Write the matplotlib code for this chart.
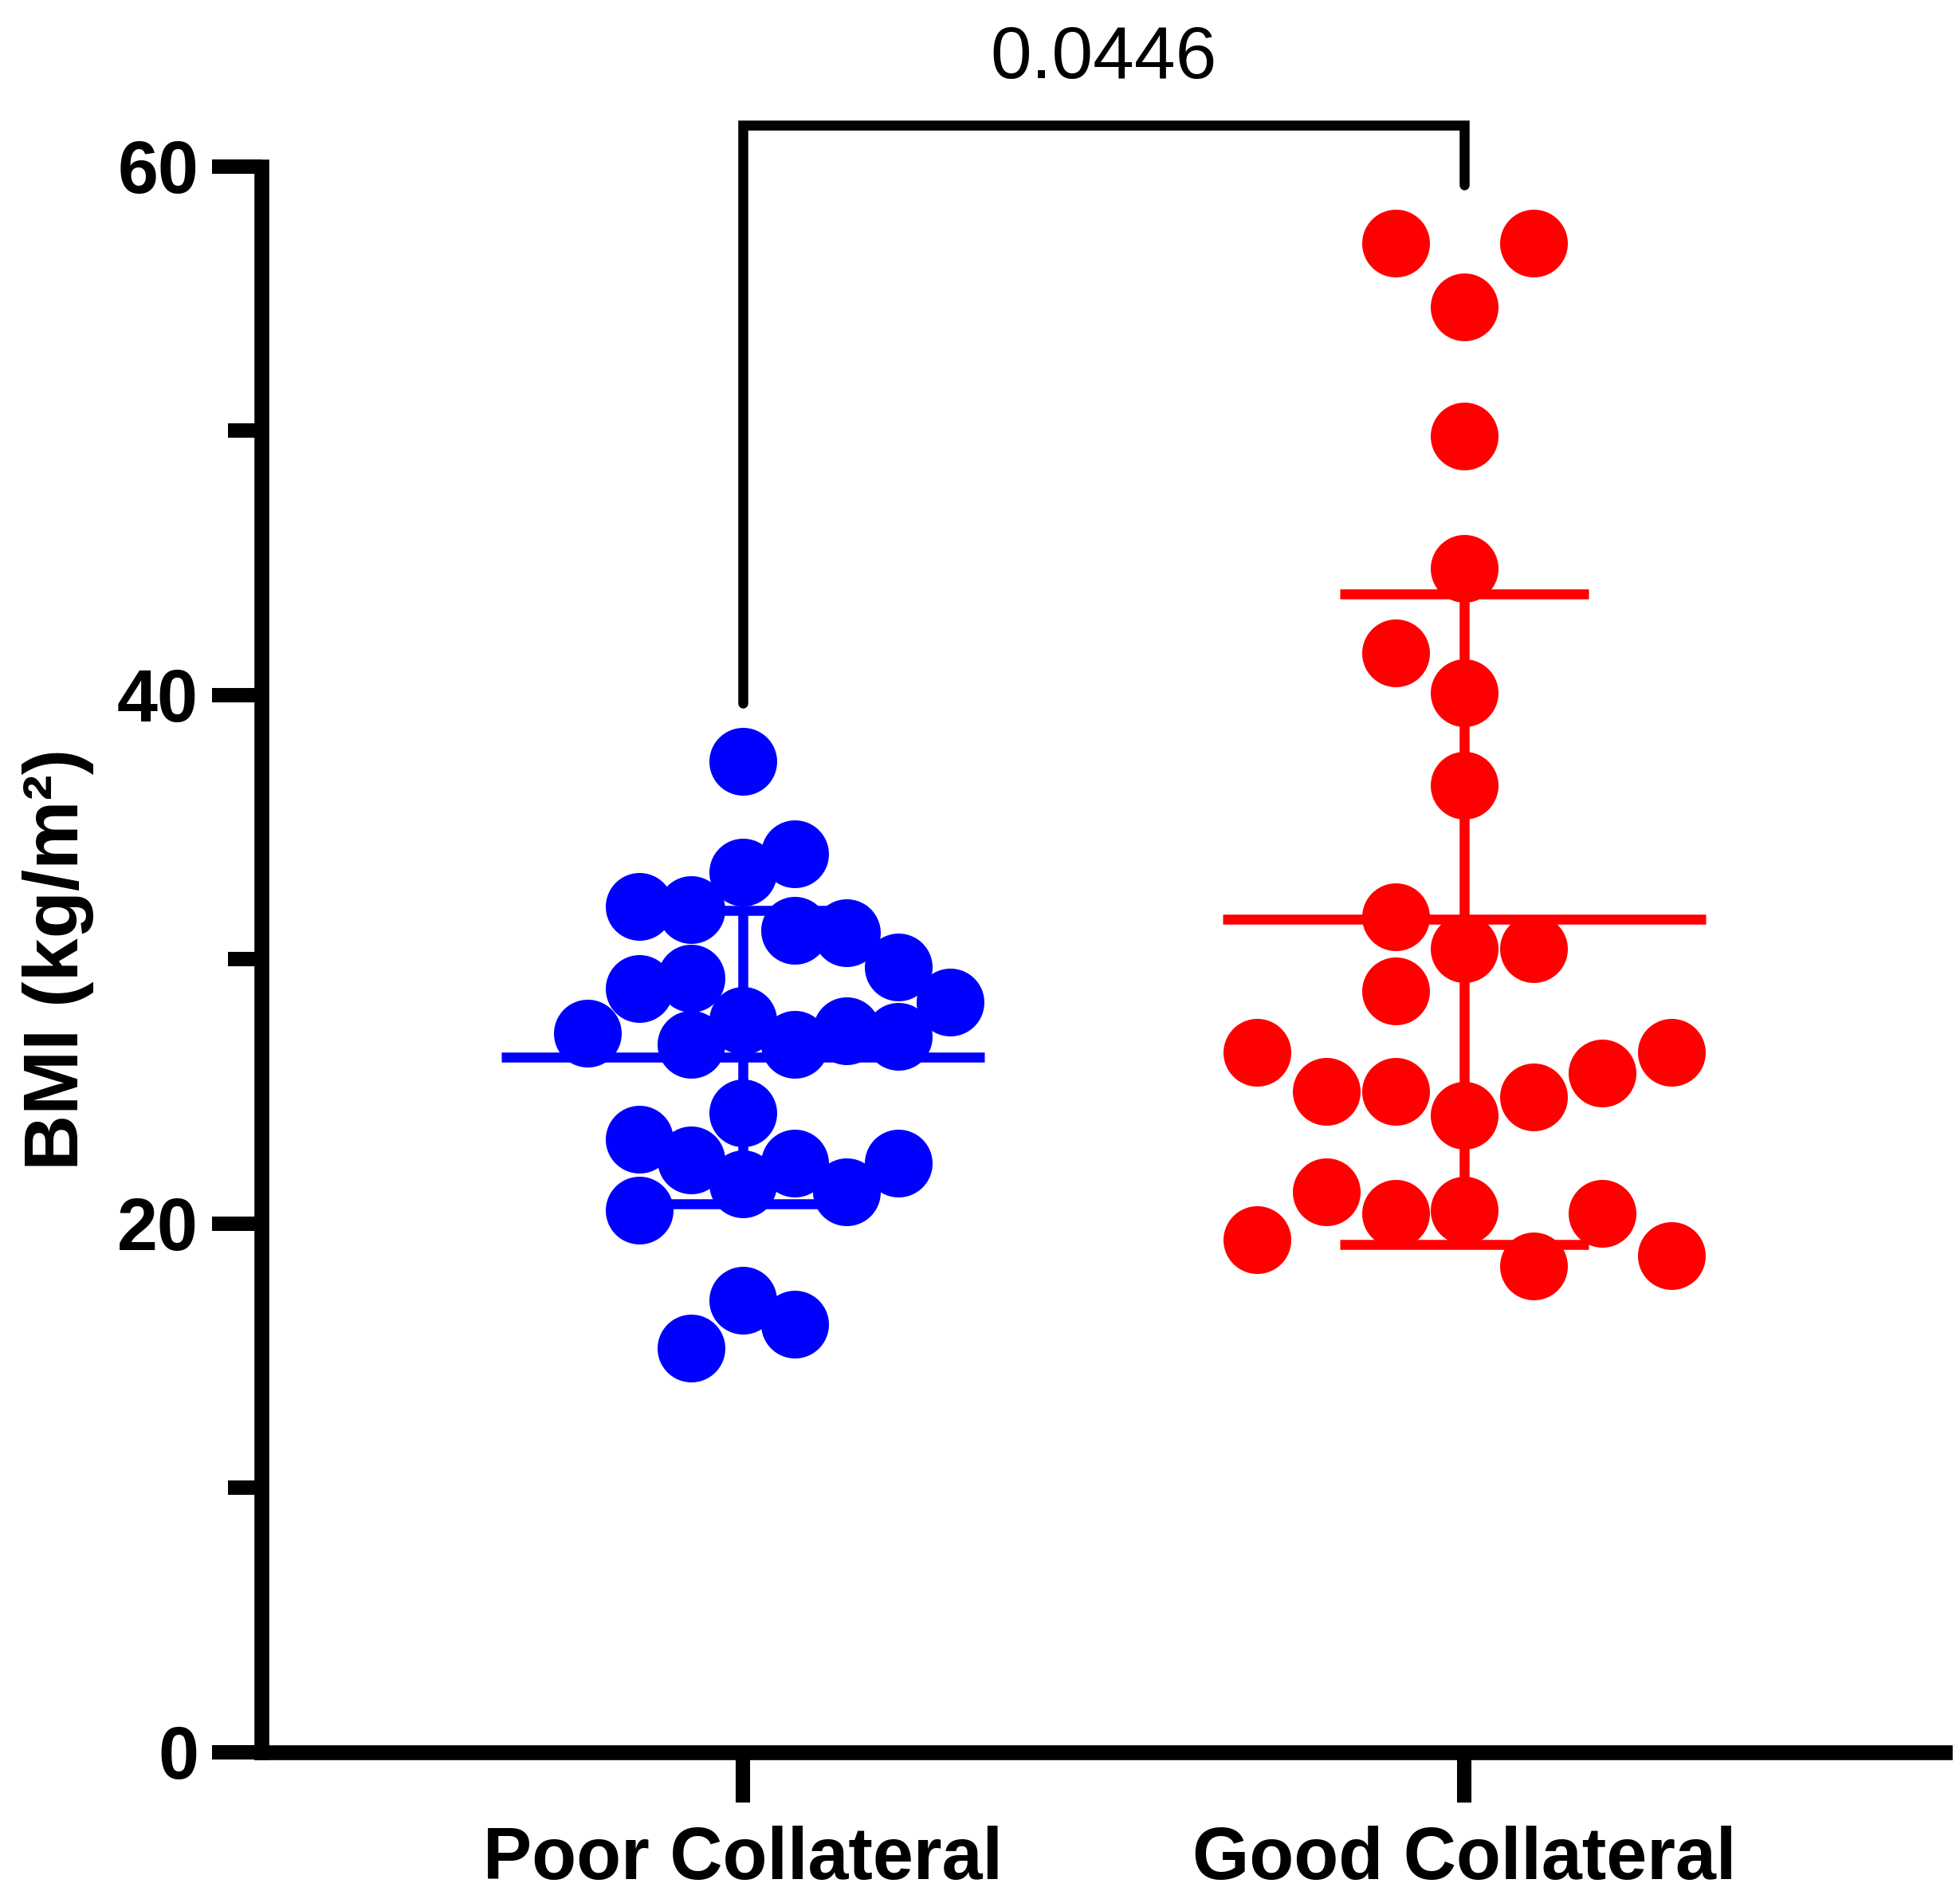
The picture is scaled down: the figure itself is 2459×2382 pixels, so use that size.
import numpy as np
import matplotlib
matplotlib.use('Agg')
import matplotlib.pyplot as plt

# BMI values
groups = ['Poor Collateral', 'Good Collateral']
poor_bmi = [37.5, 33.3, 34.0, 32.0, 31.9, 31.1, 31.0, 29.7, 28.4, 28.9,
            29.3, 27.2, 27.7, 26.8, 26.8, 27.3, 27.1, 24.2, 23.2, 22.4,
            22.3, 22.3, 21.5, 21.2, 20.5, 17.1, 16.2, 15.3]
good_bmi = [57.1, 57.1, 54.7, 49.8, 44.8, 41.6, 40.1, 36.6, 31.6, 30.4,
            30.4, 28.8, 26.5, 26.5, 25.0, 25.0, 24.1, 24.8, 25.7, 21.2,
            20.4, 20.5, 20.4, 19.4, 18.4, 18.8]
p_value = '0.0446'

# swarm column of each point (layout only)
poor_slot = [0, 0, 1, -2, -1, 1, 2, 3, 4, -2, -1, -3, 0, -1, 1, 2, 3, 0,
             -2, -1, 1, 3, 0, 2, -2, 0, 1, -1]
good_slot = [-1, 1, 0, 0, 0, -1, 0, 0, -1, 0, 1, -1, -3, 3, -2, -1, 0, 1,
             2, -2, -1, 0, 2, -3, 1, 3]

colors = ['#0000FF', '#FF0000']
spacing = [0.0719, 0.0957]

plt.rcParams['font.family'] = ['Liberation Sans', 'DejaVu Sans']

fig = plt.figure(figsize=(24.59, 23.82), dpi=100)
ax = fig.add_axes([0.1332, 0.07725, 0.8591, 0.83501])

for i, (vals, slots) in enumerate([(poor_bmi, poor_slot), (good_bmi, good_slot)]):
    vals = np.array(vals)
    x = i + np.array(slots) * spacing[i]
    mean = vals.mean()
    sd = vals.std(ddof=1)
    # mean line and SD error bar, drawn under the points
    ax.plot([i - 0.335, i + 0.335], [mean, mean], color=colors[i], lw=9,
            solid_capstyle='butt', zorder=2)
    ax.errorbar(i, mean, yerr=sd, color=colors[i], elinewidth=9, capthick=9,
                capsize=112, fmt='none', zorder=2)
    ax.scatter(x, vals, s=3745, color=colors[i], linewidths=0, zorder=3,
               clip_on=False)

# significance bracket
ax.plot([0, 0, 1, 1], [39.7, 61.57, 61.57, 59.3], color='black', lw=9,
        solid_capstyle='round', solid_joinstyle='miter', clip_on=False)
ax.text(0.5, 63.36, p_value, ha='center', va='baseline', fontsize=67,
        color='black', clip_on=False)

ax.set_xlim(-0.6676, 1.666)
ax.set_ylim(0, 60)
ax.set_xticks([0, 1])
ax.set_xticklabels(groups, fontsize=66, fontweight='bold')
ax.set_yticks([0, 20, 40, 60])
ax.set_yticks([10, 30, 50], minor=True)
ax.set_yticklabels(['0', '20', '40', '60'], fontsize=66, fontweight='bold')
ax.tick_params(axis='y', which='major', length=45, width=13, pad=11.5)
ax.tick_params(axis='y', which='minor', length=30, width=13)
ax.tick_params(axis='x', which='major', length=45, width=13, pad=21.5)

for side in ['top', 'right']:
    ax.spines[side].set_visible(False)
for side in ['left', 'bottom']:
    ax.spines[side].set_linewidth(13.4)
    ax.spines[side].set_capstyle('projecting')

ax.set_ylabel('BMI (kg/m²)', fontsize=70, fontweight='bold')
ax.yaxis.set_label_coords(-0.0992, 0.5)

fig.savefig('out.png', dpi=100)
